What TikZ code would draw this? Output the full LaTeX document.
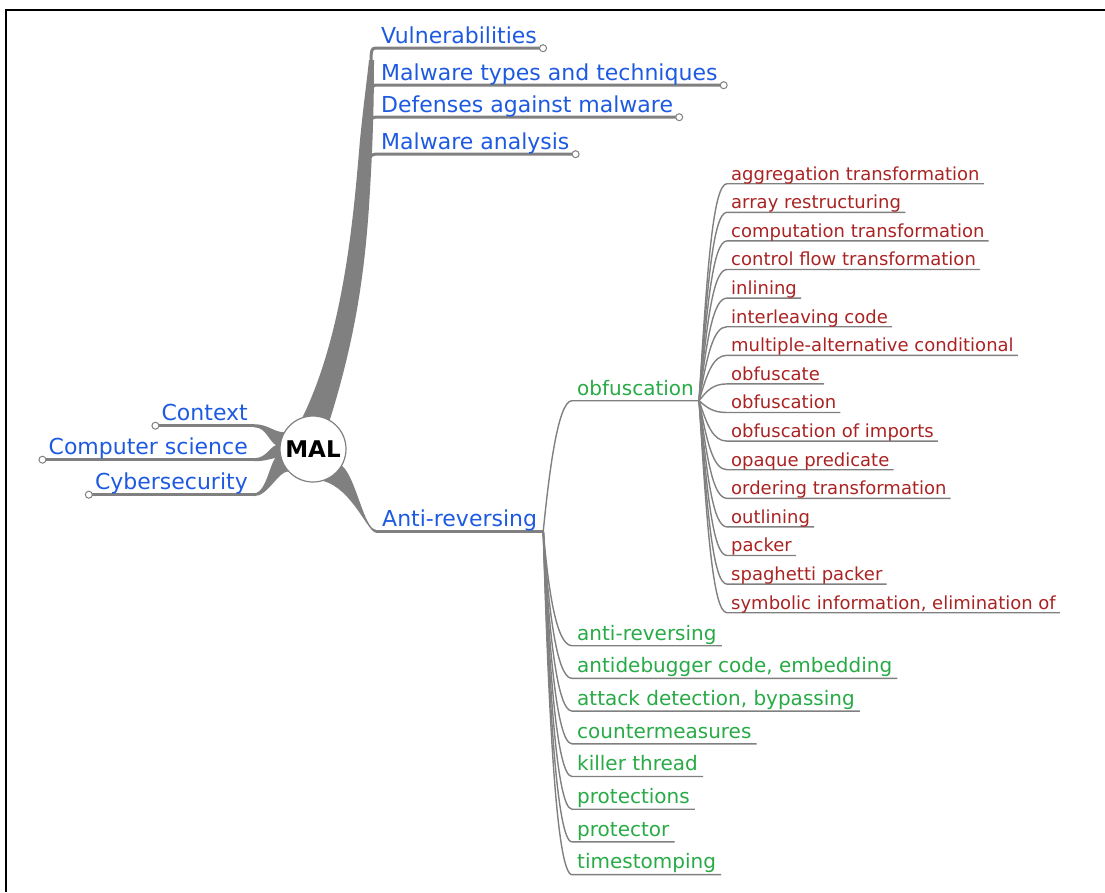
\documentclass[tikz,border=0pt]{standalone}
\usepackage{fontspec}
\setmainfont{DejaVu Sans}
\usetikzlibrary{calc,backgrounds}
\definecolor{topicblue}{RGB}{30,90,225}
\definecolor{leafgreen}{RGB}{40,170,70}
\definecolor{leafred}{RGB}{170,35,35}
\definecolor{limbgray}{RGB}{128,128,128}
\tikzset{
  topic/.style={font=\fontsize{22}{26}\selectfont, text=topicblue, inner xsep=6pt, inner ysep=5pt, text depth=0pt},
  sub/.style={font=\fontsize{20}{24}\selectfont, text=leafgreen, inner xsep=5pt, inner ysep=5.5pt, text depth=0pt},
  leaf/.style={font=\fontsize{18}{22}\selectfont, text=leafred, inner xsep=4pt, inner ysep=3.5pt, text depth=0pt},
  limb/.style={fill=limbgray},
  bough/.style={draw=limbgray, line width=3pt},
  twig/.style={draw=limbgray, line width=1.4pt},
  knob/.style={draw=limbgray, fill=white, line width=1pt},
}
\begin{document}
\begin{tikzpicture}[x=1pt,y=-1pt]
\useasboundingbox (0,0) rectangle (1105,892);
%frame
\draw[line width=2.5pt] (6,892) |- (1105,10);
%centre
\node[circle, draw=limbgray, fill=white, line width=1.2pt, minimum size=66pt, inner sep=0pt,
      font=\bfseries\fontsize{23}{26}\selectfont] (mal) at (313,449) {MAL};
%main topics
\foreach \txt/\yy [count=\k] in {Vulnerabilities/43, Malware types and techniques/80,
    Defenses against malware/112, Malware analysis/149}
  \node[topic, anchor=base west] (topic\k) at (375,\yy) {\txt};
\node[topic, anchor=base east] (ctx) at (254,420.5) {Context};
\node[topic, anchor=base east] (csc) at (254,454.5) {Computer science};
\node[topic, anchor=base east] (cys) at (254,489.5) {Cybersecurity};
\node[topic, anchor=base west] (ar) at (376,526) {Anti-reversing};
\node[sub, anchor=base west] (obf) at (572,395) {obfuscation};
\coordinate (fork1) at (371,76);
\coordinate (fork2) at (369,112);
\coordinate (fork3) at (366,145);
\coordinate (fork4) at (363,182);
\begin{scope}[on background layer]
  %trunk to the upper topics
  \fill[limb] (mal.108) .. controls (345,330) and (354,210) .. (360,140)
    .. controls (364,100) and (367,80) .. (369,60) -- (374,60)
    .. controls (374,100) and (373,140) .. (370,190)
    .. controls (366,260) and (358,330) .. (mal.60) -- cycle;
  \foreach \k in {1,...,4}
    \draw[bough] (fork\k) .. controls +(1,-16) and +(-6,0) .. (topic\k.south west) -- (topic\k.south east);
  %left topics
  \foreach \lbl/\a/\b in {ctx/150/175, csc/172/195, cys/190/222}{
    \fill[limb] ($(\lbl.south east)+(0,-1.5)$) .. controls +(14,0) and +(-10,0) .. (mal.\a)
      -- (mal.\b) .. controls +(-10,0) and +(14,0) .. ($(\lbl.south east)+(0,1.5)$) -- cycle;
    \draw[bough] (\lbl.south west) -- (\lbl.south east);
  }
  %anti-reversing
  \fill[limb] (mal.-30) .. controls +(14,12) and +(-12,0) .. ($(ar.south west)+(0,-1.5)$)
    -- ($(ar.south west)+(0,1.5)$) .. controls +(-8,0) and +(29,8) .. (mal.-72) -- cycle;
  \draw[bough] (ar.south west) -- (ar.south east);
  \draw[twig] (ar.south east) .. controls +(6,-60) and +(-14,0) .. (obf.south west) -- (obf.south east);
\end{scope}
\foreach \k in {1,...,4}
  \draw[knob] (topic\k.south east) circle [radius=3.5pt];
\foreach \lbl in {ctx,csc,cys}
  \draw[knob] (\lbl.south west) circle [radius=3.5pt];
%obfuscation leaves
\foreach \txt [count=\i] in {aggregation transformation, array restructuring, computation transformation,
    control flow transformation, inlining, interleaving code, multiple-alternative conditional,
    obfuscate, obfuscation, obfuscation of imports, opaque predicate, ordering transformation,
    outlining, packer, spaghetti packer, {symbolic information, elimination of}}{
  \node[leaf, anchor=base west] (r\i) at (727,180+28.6*\i-28.6) {\txt};
  \pgfmathsetmacro\dy{0.6*(28.6*\i-28.6-217)}
  \begin{scope}[on background layer]
    \draw[twig] (obf.south east) .. controls +(8,\dy) and +(-14,0) .. (r\i.south west) -- (r\i.south east);
  \end{scope}
}
%anti-reversing leaves
\foreach \txt [count=\i] in {anti-reversing, {antidebugger code, embedding}, {attack detection, bypassing},
    countermeasures, killer thread, protections, protector, timestomping}{
  \node[sub, anchor=base west] (g\i) at (572,640+32.7*\i-32.7) {\txt};
  \pgfmathsetmacro\dy{0.5*(32.7*\i-32.7+114)}
  \begin{scope}[on background layer]
    \draw[twig] (ar.south east) .. controls +(5,\dy) and +(-16,0) .. (g\i.south west) -- (g\i.south east);
  \end{scope}
}
\end{tikzpicture}
\end{document}
